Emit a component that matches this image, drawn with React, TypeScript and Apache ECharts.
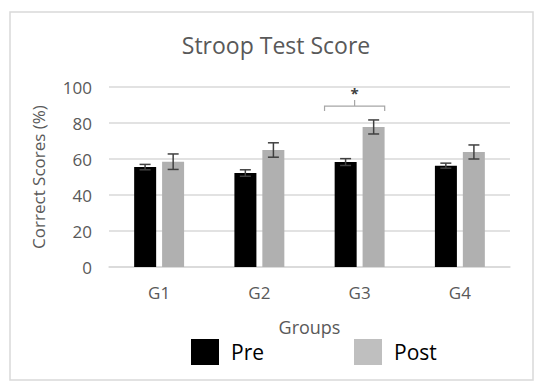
import React, { useEffect, useRef } from "react";
import * as echarts from "echarts";

const categories = ["G1", "G2", "G3", "G4"];
const preMeans = [55.5, 52.2, 58.3, 56.3];
const preErrors = [1.5, 1.8, 1.9, 1.4];
const postMeans = [58.5, 65.0, 77.8, 63.9];
const postErrors = [4.3, 4.0, 3.9, 3.9];
const yTicks = { min: 0, max: 100, interval: 20 };
const significance = [{ category: 2, value: 89.4, label: "*" }];

const FONT = "'Open Sans', 'Noto Sans', sans-serif";
const TEXT_GRAY = "#595959";

export default function App() {
  const ref = useRef<HTMLDivElement>(null);
  useEffect(() => {
    if (!ref.current) return;
    const chart = echarts.init(ref.current, undefined, { renderer: "svg" });

    const errorSeries = (means: number[], errs: number[], side: number) => ({
      type: "custom",
      silent: true,
      z: 5,
      data: means.map((m, i) => [i, m, errs[i]]),
      renderItem: (params: any, api: any) => {
        const idx = api.value(0);
        const m = api.value(1);
        const e = api.value(2);
        const band = api.size([1, 0])[0];
        const off = side * band * 0.14;
        const hi = api.coord([idx, m + e]);
        const lo = api.coord([idx, m - e]);
        const x = hi[0] + off;
        const cap = 5.5;
        const style = { stroke: "#404040", lineWidth: 1.5 };
        return {
          type: "group",
          children: [
            { type: "line", shape: { x1: x, y1: hi[1], x2: x, y2: lo[1] }, style },
            { type: "line", shape: { x1: x - cap, y1: hi[1], x2: x + cap, y2: hi[1] }, style },
            { type: "line", shape: { x1: x - cap, y1: lo[1], x2: x + cap, y2: lo[1] }, style },
          ],
        };
      },
    });

    const option: any = {
      animation: false,
      backgroundColor: "#ffffff",
      title: {
        text: "Stroop Test Score",
        left: 271,
        top: 28,
        textAlign: "center",
        textStyle: { fontFamily: FONT, fontSize: 23, fontWeight: "normal", color: TEXT_GRAY },
      },
      graphic: [
        {
          type: "rect",
          shape: { x: 10, y: 12, width: 523, height: 368 },
          style: { fill: "none", stroke: "#d9d9d9", lineWidth: 1.5 },
          z: -1,
        },
      ],
      legend: {
        left: 186,
        top: 334,
        itemWidth: 28,
        itemHeight: 26,
        itemGap: 90,
        icon: "rect",
        textStyle: { fontFamily: FONT, fontSize: 21, color: "#000000", padding: [0, 0, 0, 7] },
        data: [
          { name: "Pre", itemStyle: { color: "#000000" } },
          { name: "Post", itemStyle: { color: "#bfbfbf" } },
        ],
      },
      grid: { left: 109, right: 40, top: 87, bottom: 125 },
      xAxis: {
        type: "category",
        data: categories,
        name: "Groups",
        nameLocation: "middle",
        nameGap: 51,
        nameTextStyle: { fontFamily: FONT, fontSize: 18, color: TEXT_GRAY },
        axisLine: { lineStyle: { color: "#d9d9d9", width: 1.5 } },
        axisTick: { show: false },
        axisLabel: { fontFamily: FONT, fontSize: 17, color: TEXT_GRAY, margin: 17 },
      },
      yAxis: {
        type: "value",
        min: yTicks.min,
        max: yTicks.max,
        interval: yTicks.interval,
        name: "Correct Scores (%)",
        nameLocation: "middle",
        nameGap: 62,
        nameTextStyle: { fontFamily: FONT, fontSize: 17, color: TEXT_GRAY },
        axisLine: { show: false },
        axisTick: { show: false },
        axisLabel: { fontFamily: FONT, fontSize: 17, color: TEXT_GRAY, margin: 17 },
        splitLine: { lineStyle: { color: "#d9d9d9", width: 1.5 } },
      },
      series: [
        {
          name: "Pre",
          type: "bar",
          data: preMeans,
          barWidth: 22,
          barGap: "27%",
          itemStyle: { color: "#000000" },
        },
        {
          name: "Post",
          type: "bar",
          data: postMeans,
          barWidth: 22,
          itemStyle: { color: "#b0b0b0" },
        },
        errorSeries(preMeans, preErrors, -1),
        errorSeries(postMeans, postErrors, 1),
        {
          type: "custom",
          silent: true,
          data: significance.map((s) => [s.category, s.value]),
          renderItem: (params: any, api: any) => {
            const p = api.coord([api.value(0), api.value(1)]);
            const band = api.size([1, 0])[0];
            const cx = p[0] - band * 0.05;
            const half = band * 0.3;
            const y = p[1];
            const style = { stroke: "#a6a6a6", lineWidth: 1.2, fill: "none" };
            return {
              type: "group",
              children: [
                {
                  type: "polyline",
                  shape: { points: [[cx - half, y + 5], [cx - half, y], [cx + half, y], [cx + half, y + 5]] },
                  style,
                },
                { type: "line", shape: { x1: cx, y1: y, x2: cx, y2: y - 6 }, style },
                {
                  type: "text",
                  style: {
                    text: significance[params.dataIndex].label,
                    x: cx,
                    y: y - 6,
                    align: "center",
                    verticalAlign: "bottom",
                    fontSize: 15,
                    fontWeight: "bold",
                    fontFamily: FONT,
                    fill: "#404040",
                  },
                },
              ],
            };
          },
        },
      ],
    };
    chart.setOption(option);
    return () => chart.dispose();
  }, []);
  return (
    <div
      ref={ref}
      style={{ position: "fixed", left: 0, top: 0, width: 550, height: 392 }}
    />
  );
}
